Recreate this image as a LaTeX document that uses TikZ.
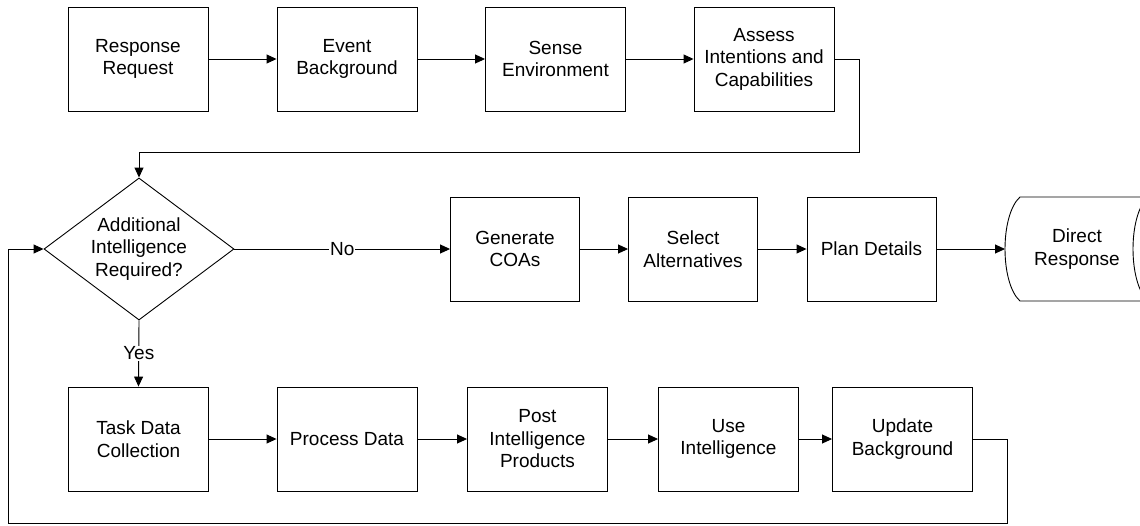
\documentclass[tikz,border=0pt]{standalone}
\usepackage{fontspec}
\setmainfont{Liberation Sans}
\usetikzlibrary{shapes.geometric}
\usetikzlibrary{arrows.meta}

\tikzset{
  procbox/.style={draw, align=center, minimum width=140pt, minimum height=104pt, inner sep=2pt},
  midbox/.style={procbox, minimum width=129pt},
  decision/.style={draw, diamond, align=center, shape aspect=1.34, minimum width=190pt, minimum height=142pt, inner sep=0pt},
  edgelabel/.style={fill=white, inner sep=1pt}
}

\begin{document}
\begin{tikzpicture}[x=1pt, y=-1pt, line width=0.9pt, font=\fontsize{19}{22.5}\selectfont, >={Triangle[length=10pt,width=9pt]}]
            \useasboundingbox (0,0) rectangle (1140,525);
            \clip (0,0) rectangle (1140,525);
            % top row
            \node[procbox] (request) at (138,59) {Response\\Request};
            \node[procbox] (event) at (347,59) {Event\\Background};
            \node[procbox] (sense) at (555.5,59) {Sense\\Environment};
            \node[procbox] (assess) at (764,59) {Assess\\Intentions and\\Capabilities};
            % decision and middle row
            \node[decision] (needintel) at (139,249) {Additional\\Intelligence\\Required?};
            \node[midbox] (coas) at (515,249) {Generate\\COAs};
            \node[midbox] (select) at (693,249) {Select\\Alternatives};
            \node[midbox] (plan) at (871.5,249) {Plan Details};
            \node[align=center] (direct) at (1077,249) {Direct\\Response};
            \coordinate (directin) at (1005,249);
            \draw (1020,197) .. controls (1000,215) and (1000,283) .. (1020,301) -- (1148,301)
                  .. controls (1128,283) and (1128,215) .. (1148,197) -- cycle;
            % bottom row
            \node[procbox] (task) at (138.5,439) {Task Data\\Collection};
            \node[procbox] (process) at (347,439) {Process Data};
            \node[procbox] (post) at (537.5,439) {Post\\Intelligence\\Products};
            \node[procbox] (use) at (728.5,439) {Use\\Intelligence};
            \node[procbox] (update) at (902.5,439) {Update\\Background};
            % connectors
            \draw[->] (request) -- (event);
            \draw[->] (event) -- (sense);
            \draw[->] (sense) -- (assess);
            \coordinate (topturn) at (859,152);
            \draw[->] (assess.east) -| (topturn) -| (needintel.north);
            \draw[->] (needintel.east) -- node[edgelabel] {No} (coas.west);
            \draw[->] (coas) -- (select);
            \draw[->] (select) -- (plan);
            \draw[->] (plan.east) -- (directin);
            \draw[->] (needintel.south) -- node[edgelabel] {Yes} (task.north);
            \draw[->] (task) -- (process);
            \draw[->] (process) -- (post);
            \draw[->] (post) -- (use);
            \draw[->] (use) -- (update);
            \coordinate (loopright) at (1007,523);
            \coordinate (loopleft) at (8,523);
            \draw[->] (update.east) -| (loopright) -- (loopleft) |- (needintel.west);
        \end{tikzpicture}
\end{document}
